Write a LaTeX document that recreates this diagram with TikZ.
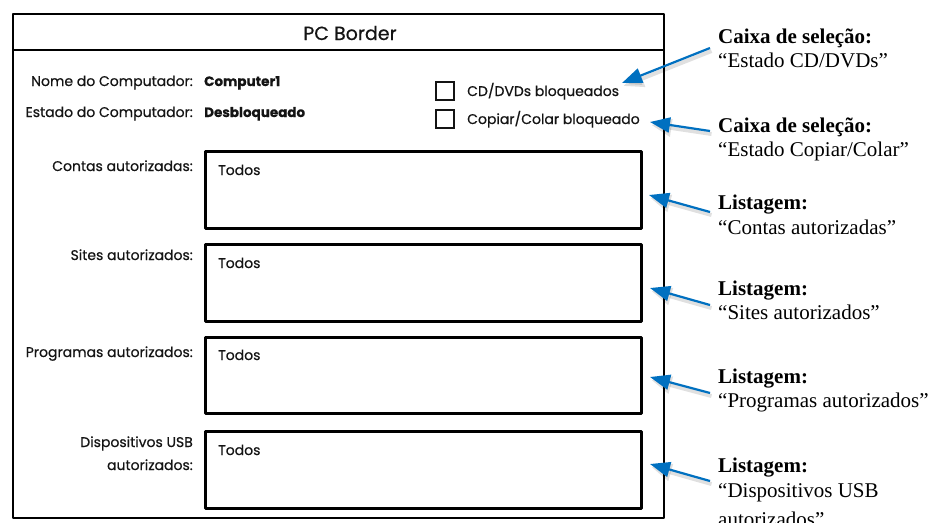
\documentclass[tikz,border=0pt]{standalone}
\usepackage{fontspec}
\setmainfont{Liberation Serif}
\newfontfamily\sketchfont[FakeBold=0.6]{Poppins}
\usetikzlibrary{arrows.meta}
\definecolor{callblue}{RGB}{0,112,192}
\definecolor{ink}{RGB}{20,20,20}
\tikzset{
  frame/.style={draw=black, line width=2.8pt, line join=round},
  listbox/.style={draw=black, line width=3pt, line join=round},
  tick/.style={draw=ink, line width=1.5pt},
  sk/.style={font=\sketchfont\fontsize{14}{16}\selectfont, text=ink, inner sep=0pt},
  lbl/.style={sk, anchor=base east},
  val/.style={sk, font=\sketchfont\bfseries\fontsize{13.5}{16}\selectfont, anchor=base west},
  txt/.style={sk, anchor=base west},
  note/.style={font=\fontsize{21}{24}\selectfont, inner sep=0pt, anchor=base west},
  callout/.style={draw=callblue, line width=2.2pt, -{Triangle[length=20pt,width=15pt]}},
  calloutshade/.style={draw=black, opacity=0.12, line width=4pt, -{Triangle[length=20pt,width=17pt]}},
}
\begin{document}
\begin{tikzpicture}[x=1pt,y=-1pt]
\useasboundingbox (0,0) rectangle (933,522);
\clip (0,0) rectangle (933,522);

% window with title bar
\draw[frame] (13,14) rectangle (664,518);
\draw[frame] (13,50) -- (664,50);
\node[sk, font=\sketchfont\fontsize{19}{22}\selectfont, anchor=base] (title) at (350,40) {PC Border};

% computer info
\node[lbl] (nomeL) at (193,86) {Nome do Computador:};
\node[val] (nomeV) at (204,86) {Computer1};
\node[lbl] (estL) at (193,117) {Estado do Computador:};
\node[val] (estV) at (204,117) {Desbloqueado};

% check boxes
\draw[tick] (436,82) rectangle (454,100);
\node[txt] (cd) at (467,96) {CD/DVDs bloqueados};
\draw[tick] (436,110) rectangle (454,128);
\node[txt] (cc) at (467,124) {Copiar/Colar bloqueado};

% list boxes
\draw[listbox] (205,151) rectangle (641,228);
\draw[listbox] (205,244) rectangle (641,321);
\draw[listbox] (205,337) rectangle (641,413);
\draw[listbox] (205,431) rectangle (641,508);
\node[txt] (t1) at (218,175) {Todos};
\node[txt] (t2) at (218,268) {Todos};
\node[txt] (t3) at (218,360) {Todos};
\node[txt] (t4) at (218,455) {Todos};

\node[lbl] (contasL) at (193,171) {Contas autorizadas:};
\node[lbl] (sitesL) at (193,260) {Sites autorizados:};
\node[lbl] (progL) at (193,357) {Programas autorizados:};
\node[lbl] (usbL1) at (193,447) {Dispositivos USB};
\node[lbl] (usbL2) at (193,470) {autorizados:};

% callout notes
\node[note] (n1a) at (718,43) {\textbf{Caixa de seleção:}};
\node[note] (n1b) at (718,67) {“Estado CD/DVDs”};
\node[note] (n2a) at (718,132) {\textbf{Caixa de seleção:}};
\node[note] (n2b) at (718,156) {“Estado Copiar/Colar”};
\node[note] (n3a) at (718,209) {\textbf{Listagem:}};
\node[note] (n3b) at (718,234) {“Contas autorizadas”};
\node[note] (n4a) at (718,295) {\textbf{Listagem:}};
\node[note] (n4b) at (718,319) {“Sites autorizados”};
\node[note] (n5a) at (718,383) {\textbf{Listagem:}};
\node[note] (n5b) at (718,407) {“Programas autorizados”};
\node[note] (n6a) at (718,472) {\textbf{Listagem:}};
\node[note] (n6b) at (718,497) {“Dispositivos USB};
\node[note] (n6c) at (718,526) {autorizados”};

% callout arrows, each with a faint shadow
\coordinate (s1) at (710,48);  \coordinate (e1) at (622,83);
\coordinate (s2) at (710,131); \coordinate (e2) at (650,122);
\coordinate (s3) at (710,212); \coordinate (e3) at (649,195);
\coordinate (s4) at (710,305); \coordinate (e4) at (650,288);
\coordinate (s5) at (710,393); \coordinate (e5) at (650,377);
\coordinate (s6) at (710,481); \coordinate (e6) at (650,464);
\foreach \i in {1,...,6} {
  \draw[calloutshade, transform canvas={shift={(1.5pt,-3pt)}}] (s\i) -- (e\i);
  \draw[callout] (s\i) -- (e\i);
}
\end{tikzpicture}
\end{document}
